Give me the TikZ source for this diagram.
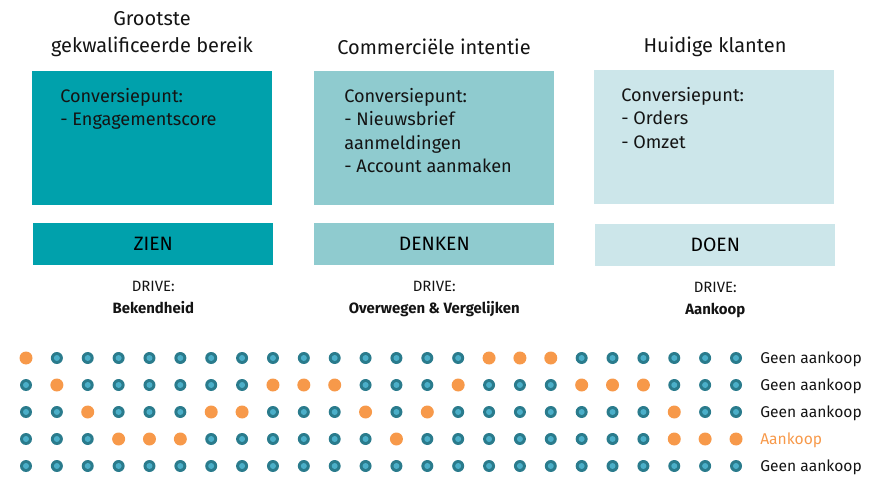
\documentclass[tikz,border=0pt]{standalone}
\usepackage{fontspec}
\setsansfont{Fira Sans}
\usetikzlibrary{positioning}

\begin{document}
\begin{tikzpicture}[
    x=0.75pt, y=-0.75pt,
    bigbox/.style={minimum width=180pt, minimum height=100.5pt, inner sep=0pt, anchor=north west},
    phasebox/.style={minimum width=180pt, minimum height=31.5pt, inner sep=0pt, anchor=north west, font=\sffamily\fontsize{14.5}{16}\selectfont},
    title/.style={font=\sffamily\fontsize{15}{20}\selectfont, align=center, color=txt},
    conv/.style={font=\sffamily\fontsize{13.6}{17.5}\selectfont, align=left, anchor=north west, inner sep=0pt, color=txt},
    drive/.style={font=\sffamily\fontsize{11.2}{16.5}\selectfont, align=center, color=txt},
    rowlabel/.style={font=\sffamily\fontsize{11.7}{13}\selectfont, anchor=west, inner sep=0pt, color=txt}
    ]
    % Definizione colori
    \definecolor{txt}{RGB}{20, 20, 20}
    \definecolor{colorZien}{RGB}{0, 161, 172}
    \definecolor{colorDenken}{RGB}{143, 203, 207}
    \definecolor{colorDoen}{RGB}{204, 230, 234}
    \definecolor{dotOuter}{RGB}{42, 123, 140}
    \definecolor{dotInner}{RGB}{75, 175, 201}
    \definecolor{dotOrange}{RGB}{247, 153, 74}

    \useasboundingbox (0,0) rectangle (883,492);

    % Titoli
    \node[title] (tzien) at (152,34) {Grootste\\gekwalificeerde bereik};
    \node[title] (tdenken) at (434,47) {Commerciële intentie};
    \node[title] (tdoen) at (715,47) {Huidige klanten};

    % Blocchi grandi
    \node[bigbox, fill=colorZien] (zien) at (32,71) {};
    \node[conv] at ([shift={(28pt*0.75,-17pt*0.75)}]zien.north west) {Conversiepunt:\\- Engagementscore};

    \node[bigbox, fill=colorDenken] (denken) at (314,71) {};
    \node[conv] at ([shift={(30pt*0.75,-17pt*0.75)}]denken.north west) {Conversiepunt:\\- Nieuwsbrief\\aanmeldingen\\- Account aanmaken};

    \node[bigbox, fill=colorDoen] (doen) at (594,70) {};
    \node[conv] at ([shift={(27pt*0.75,-17pt*0.75)}]doen.north west) {Conversiepunt:\\- Orders\\- Omzet};

    % Blocchi fase
    \node[phasebox, fill=colorZien] (zienfase) at (33,223) {ZIEN};
    \node[phasebox, fill=colorDenken] (denkenfase) at (314,223) {DENKEN};
    \node[phasebox, fill=colorDoen] (doenfase) at (595,224) {DOEN};

    % Drive
    \node[drive, below=8pt of zienfase] (dzien) {DRIVE:\\\textbf{Bekendheid}};
    \node[drive, below=8pt of denkenfase] (ddenken) {DRIVE:\\\textbf{Overwegen \& Vergelijken}};
    \node[drive, below=8pt of doenfase] (ddoen) {DRIVE:\\\textbf{Aankoop}};

    % Puntini
    \foreach \pat [count=\r] in {
        {1,0,0,0,0,0,0,0,0,0,0,0,0,0,0,1,1,1,0,0,0,0,0,0},
        {0,1,0,0,0,0,0,0,1,1,1,0,0,0,1,0,0,0,1,1,1,0,0,0},
        {0,0,1,0,0,0,1,1,0,0,0,1,0,1,0,0,0,0,0,0,0,1,0,0},
        {0,0,0,1,1,1,0,0,0,0,0,0,1,0,0,0,0,0,0,0,0,1,1,1},
        {0,0,0,0,0,0,0,0,0,0,0,0,0,0,0,0,0,0,0,0,0,0,0,0}} {
        \foreach \v [count=\c] in \pat {
            \ifnum\v=1
                \fill[dotOrange] ({26+(\c-1)*30.87},{358+(\r-1)*27}) circle (6.5);
            \else
                \fill[dotOuter] ({26+(\c-1)*30.87},{358+(\r-1)*27}) circle (6);
                \fill[dotInner] ({26+(\c-1)*30.87},{358+(\r-1)*27}) circle (3);
            \fi
        }
    }

    % Etichette
    \node[rowlabel] (riga1) at (760,359) {Geen aankoop};
    \node[rowlabel] (riga2) at (760,386) {Geen aankoop};
    \node[rowlabel] (riga3) at (760,413) {Geen aankoop};
    \node[rowlabel, color=dotOrange] (riga4) at (760,440) {Aankoop};
    \node[rowlabel] (riga5) at (760,467) {Geen aankoop};
\end{tikzpicture}
\end{document}
